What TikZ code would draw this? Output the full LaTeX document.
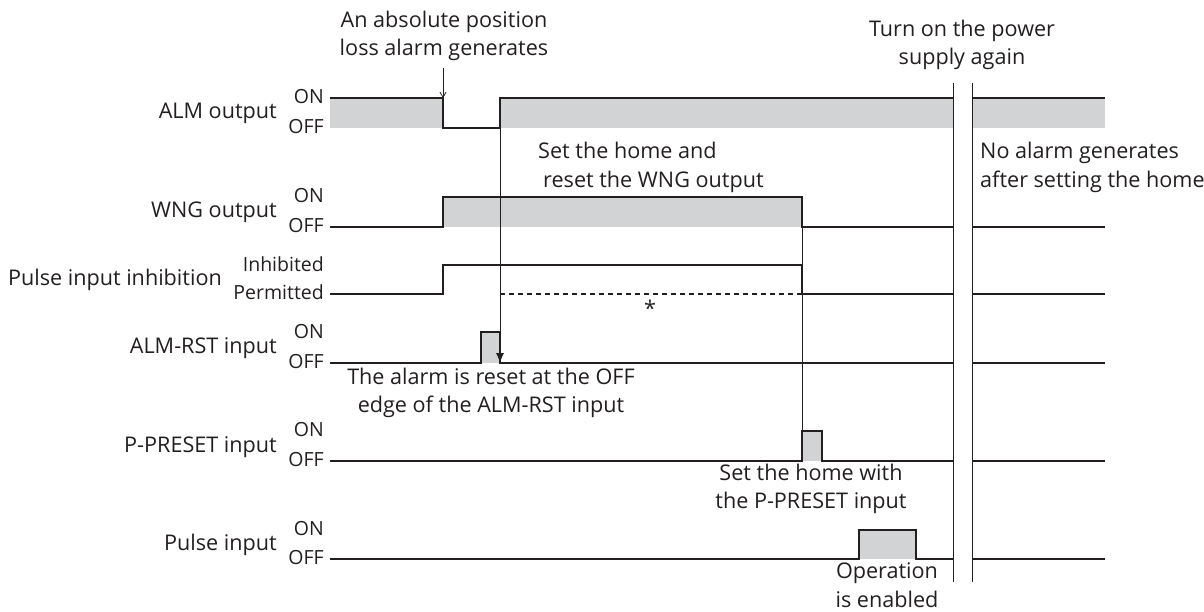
\documentclass[tikz,border=0pt]{standalone}
\usepackage{fontspec}
\setmainfont{Open Sans}
\usetikzlibrary{arrows.meta}
\definecolor{sigline}{HTML}{231F20}
\definecolor{lvlgray}{HTML}{D1D3D4}
\tikzset{
  sig/.style={draw=sigline, line width=1.1pt},
  lvl/.style={fill=lvlgray},
  guide/.style={draw=sigline, line width=0.8pt},
  txt/.style={font=\fontsize{21.6}{28.5}\selectfont, inner sep=0pt, text=sigline},
  small/.style={font=\fontsize{19.5}{22}\selectfont, inner sep=0pt, text=sigline}
}
\begin{document}
\begin{tikzpicture}[x=1pt,y=-1pt]
\useasboundingbox (0,0) rectangle (1204,612);
\fill[lvl] (330,98) rectangle (443,128);
\fill[lvl] (500,98) rectangle (1105,128);
\fill[lvl] (443,197) rectangle (802,227);
\fill[lvl] (481,332) rectangle (500,363);
\fill[lvl] (802,431) rectangle (822,461);
\fill[lvl] (859,530) rectangle (916,559);
\draw[sig] (330,98) -- (443,98) -- (443,128) -- (500,128) -- (500,98) -- (1105,98);
\draw[sig] (330,227) -- (443,227) -- (443,197) -- (802,197) -- (802,227) -- (1105,227);
\draw[sig] (330,294) -- (443,294) -- (443,265) -- (802,265) -- (802,294) -- (1105,294);
\draw[sig, dashed, dash pattern=on 5pt off 4pt] (500,294) -- (802,294);
\draw[sig] (330,363) -- (481,363) -- (481,332) -- (500,332) -- (500,363) -- (1105,363);
\draw[sig] (330,461) -- (802,461) -- (802,431) -- (822,431) -- (822,461) -- (1105,461);
\draw[sig] (330,559) -- (859,559) -- (859,530) -- (916,530) -- (916,559) -- (1105,559);
\draw[guide, -{Latex[length=10pt,width=8pt]}] (500,128) -- (500,363);
\draw[guide] (802,227) -- (802,461);
\fill[white] (953,83) rectangle (972,582);
\draw[guide] (953,83) -- (953,582);
\draw[guide] (972,83) -- (972,582);
\node[txt, anchor=east] (alm) at (277,113) {ALM output};
\node[txt, anchor=east] (wng) at (277,212) {WNG output};
\node[txt, anchor=east] (inh) at (222,280) {Pulse input inhibition};
\node[txt, anchor=east] (rst) at (277,348) {ALM-RST input};
\node[txt, anchor=east] (pre) at (277,447) {P-PRESET input};
\node[txt, anchor=east] (pls) at (277,545) {Pulse input};
\foreach \n/\on/\off in {almlv/97/127, wnglv/196/226, rstlv/332/362, prelv/430/460, plslv/529/558}{
  \node[small, anchor=east] (\n on) at (324,\on) {ON};
  \node[small, anchor=east] (\n off) at (324,\off) {OFF};
}
\node[small, anchor=east] (inhon) at (324,264) {Inhibited};
\node[small, anchor=east] (inhoff) at (324,292) {Permitted};
\node[txt, align=center] (loss) at (444,36) {An absolute position\\loss alarm generates};
\coordinate (lossend) at (443,98);
\draw[guide, -{Straight Barb[length=5pt,width=6pt]}] (443,68) -- (lossend);
\node[txt, align=center] (power) at (962,45) {Turn on the power\\supply again};
\node[txt, align=left, anchor=north west] (home) at (538,142) {Set the home and\\\hspace{5pt}reset the WNG output};
\node[txt, align=left, anchor=north west] (noalm) at (980,142) {No alarm generates\\after setting the home};
\node[txt] (star) at (650,308) {*};
\node[txt, align=center] (reset) at (491,393) {The alarm is reset at the OFF\\edge of the ALM-RST input};
\node[txt, align=center] (preset) at (811,489) {Set the home with\\the P-PRESET input};
\node[txt, align=center] (oper) at (887,585) {Operation\\is enabled};
\end{tikzpicture}
\end{document}
